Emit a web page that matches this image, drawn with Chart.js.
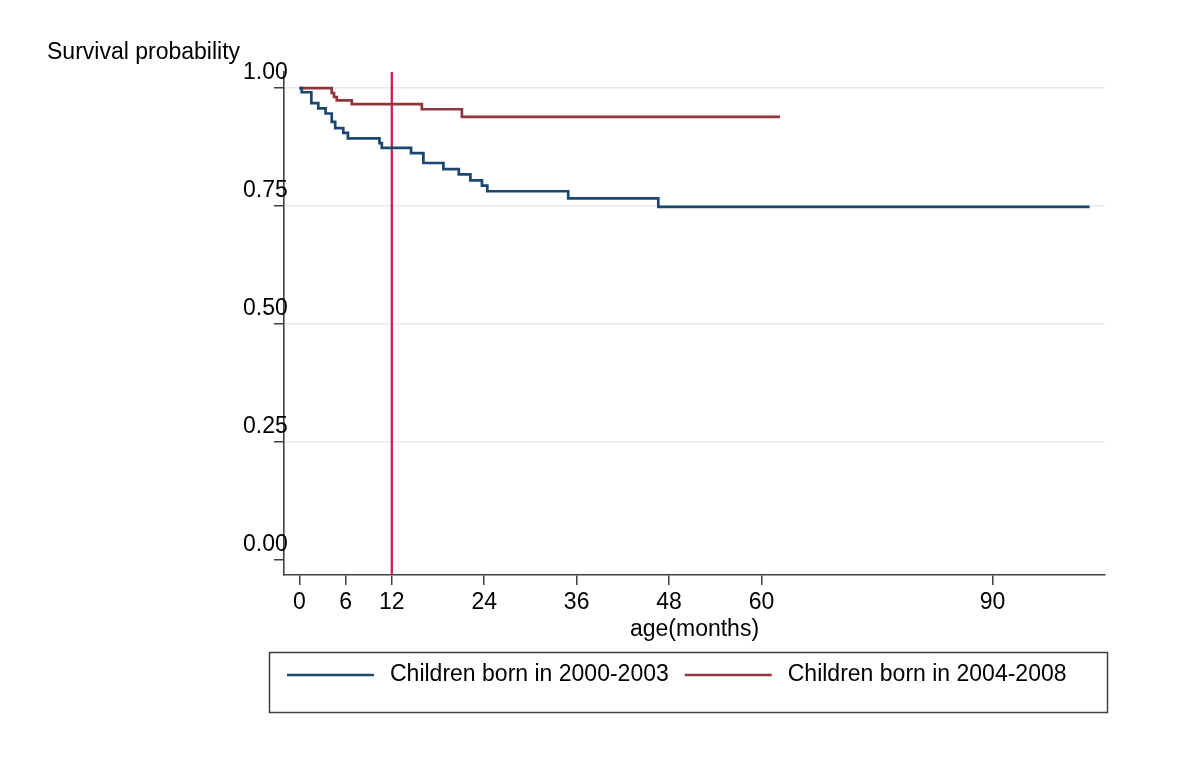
<!DOCTYPE html>
<html>
<head>
<meta charset="utf-8">
<title>Survival probability</title>
<script src="https://cdn.jsdelivr.net/npm/chart.js@4/dist/chart.umd.min.js"></script>
<style>
    html, body { margin: 0; padding: 0; background: #ffffff; }
    #wrap { position: relative; width: 1200px; height: 762px; }
</style>
</head>
<body>
<div id="wrap"><canvas id="survChart"></canvas></div>
<script>
// ----------------------------------------------------------
// DATA
// ----------------------------------------------------------
const seriesLabels = ["Children born in 2000-2003", "Children born in 2004-2008"];

const monthsA   = [0, 0.3, 1.55, 2.45, 3.4, 4.2, 4.65, 5.7, 6.3, 10.4, 10.7, 14.5, 16.1, 18.7, 20.7, 22.2, 23.7, 24.4, 34.9, 46.6, 102.6];
const survivalA = [1.000, 0.991, 0.968, 0.957, 0.946, 0.928, 0.915, 0.905, 0.893, 0.883, 0.873, 0.862, 0.841, 0.828, 0.817, 0.804, 0.793, 0.781, 0.766, 0.748, 0.748];

const monthsB   = [0, 4.2, 4.5, 4.85, 6.8, 15.9, 21.1, 62.4];
const survivalB = [1.000, 0.989, 0.981, 0.974, 0.966, 0.955, 0.939, 0.939];

const markerMonth = 12;

const xTickValues = [0, 6, 12, 24, 36, 48, 60, 90];
const yTickValues = [0, 0.25, 0.5, 0.75, 1];

const xMin = -2, xMax = 104.6;
const yMin = -0.033, yMax = 1.034;

// ----------------------------------------------------------
// STYLE
// ----------------------------------------------------------
const colorA = "#1a476f";
const colorB = "#90353b";
const markerColor = "#cc1848";
const gridColor = "#e3ebf0";
const axisColor = "#404040";
const fontFamily = "'Liberation Sans', Arial, Helvetica, sans-serif";
const fontSize = 23;

Chart.defaults.font.family = fontFamily;
Chart.defaults.font.size = fontSize;
Chart.defaults.color = "#000000";

function toPoints(xs, ys) {
    return xs.map((x, i) => ({ x: x, y: ys[i] }));
}

// ----------------------------------------------------------
// PLUGIN: y title at top left + boxed legend below the plot
// ----------------------------------------------------------
const stataExtras = {
    id: "stataExtras",
    afterDraw(chart) {
        const ctx = chart.ctx;
        ctx.save();

        // y axis title
        ctx.font = fontSize + "px " + fontFamily;
        ctx.fillStyle = "#000";
        ctx.textAlign = "left";
        ctx.textBaseline = "middle";
        ctx.fillText("Survival probability", 47, 53);

        // legend box
        ctx.strokeStyle = axisColor;
        ctx.lineWidth = 1.5;
        ctx.strokeRect(269.5, 652.5, 838, 60);

        let x = 287;
        const y = 675;
        chart.data.datasets.slice(0, 2).forEach(ds => {
            ctx.strokeStyle = ds.borderColor;
            ctx.lineWidth = 2.5;
            ctx.beginPath();
            ctx.moveTo(x, y);
            ctx.lineTo(x + 87, y);
            ctx.stroke();
            ctx.fillStyle = "#000";
            ctx.fillText(ds.label, x + 103, y);
            x += 103 + ctx.measureText(ds.label).width + 16;
        });

        ctx.restore();
    }
};

// ----------------------------------------------------------
// CHART
// ----------------------------------------------------------
const ctx = document.getElementById("survChart").getContext("2d");
const survChart = new Chart(ctx, {
    type: "line",
    data: {
        datasets: [
            {
                label: seriesLabels[0],
                data: toPoints(monthsA, survivalA),
                borderColor: colorA,
                borderWidth: 2.7,
                stepped: "before",
                pointRadius: 0,
                fill: false
            },
            {
                label: seriesLabels[1],
                data: toPoints(monthsB, survivalB),
                borderColor: colorB,
                borderWidth: 2.7,
                stepped: "before",
                pointRadius: 0,
                fill: false
            },
            {
                label: "12 months",
                data: [{ x: markerMonth, y: yMin }, { x: markerMonth, y: yMax }],
                borderColor: markerColor,
                borderWidth: 2.2,
                pointRadius: 0,
                fill: false
            }
        ]
    },
    options: {
        responsive: true,
        maintainAspectRatio: false,
        animation: false,
        layout: {
            padding: { left: 0, right: 95, top: 72, bottom: 117 }
        },
        plugins: {
            legend: { display: false },
            tooltip: { enabled: false },
            title: { display: false }
        },
        scales: {
            x: {
                type: "linear",
                min: xMin,
                max: xMax,
                afterBuildTicks: scale => {
                    scale.ticks = xTickValues.map(v => ({ value: v }));
                },
                afterFit: scale => { scale.height = 70; },
                grid: {
                    drawOnChartArea: false,
                    drawTicks: true,
                    tickLength: 10,
                    tickColor: axisColor,
                    lineWidth: 1.5
                },
                border: { color: axisColor, width: 1.6 },
                ticks: {
                    padding: 4,
                    maxRotation: 0,
                    autoSkip: false,
                    callback: v => String(v)
                },
                title: {
                    display: true,
                    text: "age(months)",
                    padding: { top: 0, bottom: 2 }
                }
            },
            y: {
                type: "linear",
                min: yMin,
                max: yMax,
                afterBuildTicks: scale => {
                    scale.ticks = yTickValues.map(v => ({ value: v }));
                },
                afterFit: scale => { scale.width = 284; },
                grid: {
                    color: c => (c.tick && c.tick.value === 0) ? "rgba(0,0,0,0)" : gridColor,
                    lineWidth: 1.5,
                    drawTicks: true,
                    tickLength: 10,
                    tickColor: axisColor
                },
                border: { color: axisColor, width: 1.6 },
                ticks: {
                    mirror: true,
                    padding: -41,
                    labelOffset: -15,
                    autoSkip: false,
                    callback: v => Number(v).toFixed(2)
                }
            }
        }
    },
    plugins: [stataExtras]
});
</script>
</body>
</html>
